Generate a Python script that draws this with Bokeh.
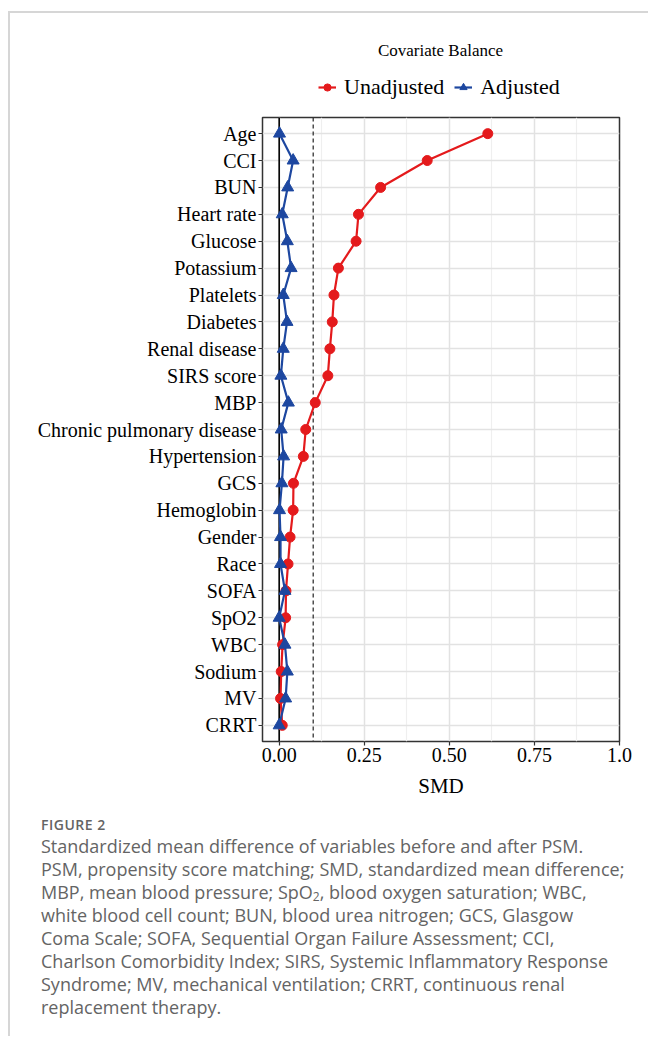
from bokeh.plotting import figure
from bokeh.models import (Range1d, FactorRange, FixedTicker, Span, Label, Legend,
                          LegendItem, Div)
from bokeh.layouts import column
from bokeh.embed import file_html
from bokeh.resources import INLINE

# ---------------- data ----------------
categories = ["Age", "CCI", "BUN", "Heart rate", "Glucose", "Potassium", "Platelets",
              "Diabetes", "Renal disease", "SIRS score", "MBP",
              "Chronic pulmonary disease", "Hypertension", "GCS", "Hemoglobin",
              "Gender", "Race", "SOFA", "SpO2", "WBC", "Sodium", "MV", "CRRT"]
unadjusted = [0.613, 0.435, 0.298, 0.233, 0.226, 0.174, 0.161, 0.156, 0.149, 0.143,
              0.106, 0.078, 0.071, 0.042, 0.041, 0.032, 0.026, 0.020, 0.019, 0.010,
              0.006, 0.004, 0.009]
adjusted = [0.001, 0.041, 0.025, 0.009, 0.024, 0.035, 0.012, 0.023, 0.012, 0.005,
            0.027, 0.006, 0.013, 0.008, 0.001, 0.004, 0.004, 0.017, 0.000, 0.017,
            0.024, 0.019, 0.000]
series_names = ["Unadjusted", "Adjusted"]
x_ticks = [0.0, 0.25, 0.5, 0.75, 1.0]
x_tick_labels = ["0.00", "0.25", "0.50", "0.75", "1.0"]
x_minor_ticks = [0.125, 0.375, 0.625, 0.875]
threshold = 0.1
legend_title = "Covariate Balance"
x_label = "SMD"
caption_head = "FIGURE 2"
caption_lines = [
    "Standardized mean difference of variables before and after PSM.",
    "PSM, propensity score matching; SMD, standardized mean difference;",
    "MBP, mean blood pressure; SpO<sub style='font-size:12px; line-height:0; "
    "vertical-align:-2px'>2</sub>, blood oxygen saturation; WBC,",
    "white blood cell count; BUN, blood urea nitrogen; GCS, Glasgow",
    "Coma Scale; SOFA, Sequential Organ Failure Assessment; CCI,",
    "Charlson Comorbidity Index; SIRS, Systemic Inflammatory Response",
    "Syndrome; MV, mechanical ventilation; CRRT, continuous renal",
    "replacement therapy.",
]

RED = "#E41A1C"
BLUE = "#1D47A0"
SERIF = "Liberation Serif"
W = 630
BL, BR = 252, 21
FRAME_W = W - BL - BR

# ---------------- header (title + legend) ----------------
HEAD_H = 100
h = figure(width=W, height=HEAD_H, x_range=Range1d(0, FRAME_W), y_range=Range1d(0, HEAD_H),
           output_backend="svg", toolbar_location=None,
           min_border_left=BL, min_border_right=BR,
           min_border_top=0, min_border_bottom=0)
h.axis.visible = False
h.grid.visible = False
h.outline_line_color = None
h.border_fill_color = None
h.background_fill_color = None

# legend key renderers (placeholders outside the visible range)
off = [-1000]
krl = h.line(x=off, y=off, line_color=RED, line_width=2.2)
krp = h.scatter(x=off, y=off, marker="circle", size=10, fill_color=RED, line_color=RED)
kbl = h.line(x=off, y=off, line_color=BLUE, line_width=2.2)
kbp = h.scatter(x=off, y=off, marker="triangle", size=12, fill_color=BLUE, line_color=BLUE)

legend = Legend(items=[LegendItem(label=series_names[0], renderers=[krl, krp]),
                       LegendItem(label=series_names[1], renderers=[kbl, kbp])],
                orientation="horizontal", location=(56, 13),
                border_line_color=None, background_fill_alpha=0,
                padding=0, margin=0, spacing=10, label_standoff=8,
                glyph_width=18, glyph_height=24,
                label_text_font=SERIF, label_text_font_size="22px",
                label_text_color="black")
h.add_layout(legend)
h.add_layout(Label(x=178, y=63, text=legend_title, text_align="center",
                   text_baseline="middle", text_font=SERIF,
                   text_font_size="17px", text_color="black"))

# ---------------- main plot ----------------
FRAME_H = 624
p = figure(width=W, height=4 + FRAME_H + 70,
           x_range=Range1d(-0.049, 1.0),
           y_range=FactorRange(factors=list(reversed(categories)),
                               range_padding=0.1, range_padding_units="absolute"),
           output_backend="svg", toolbar_location=None,
           min_border_left=BL, min_border_right=BR,
           min_border_top=4, min_border_bottom=70)

p.outline_line_color = "#333333"
p.outline_line_width = 1.5
p.background_fill_color = "white"
p.border_fill_color = None

p.xaxis.ticker = FixedTicker(ticks=x_ticks, minor_ticks=x_minor_ticks)
p.xaxis.major_label_overrides = {t: l for t, l in zip(x_ticks, x_tick_labels)}
p.xgrid.grid_line_color = "#e2e2e2"
p.xgrid.grid_line_width = 1.5
p.xgrid.minor_grid_line_color = "#efefef"
p.xgrid.minor_grid_line_width = 1.2
p.ygrid.grid_line_color = "#e2e2e2"
p.ygrid.grid_line_width = 1.5

for ax in (p.xaxis[0], p.yaxis[0]):
    ax.axis_line_color = None
    ax.major_tick_line_color = "#333333"
    ax.major_tick_line_width = 1.2
    ax.major_tick_out = 4
    ax.major_tick_in = 0
    ax.minor_tick_line_color = None
    ax.major_label_text_font = SERIF
    ax.major_label_text_font_size = "20px"
    ax.major_label_text_color = "black"
    ax.major_label_standoff = 2
p.xaxis.axis_label = x_label
p.xaxis.axis_label_text_font = SERIF
p.xaxis.axis_label_text_font_size = "21px"
p.xaxis.axis_label_text_font_style = "normal"
p.xaxis.axis_label_text_color = "black"
p.xaxis.axis_label_standoff = 9

p.add_layout(Span(location=0, dimension="height", line_color="black",
                  line_width=1.6, level="underlay"))
p.add_layout(Span(location=threshold, dimension="height", line_color="#333333",
                  line_width=1.3, line_dash="4 3", level="underlay"))

p.line(unadjusted, categories, line_color=RED, line_width=2.2)
p.scatter(unadjusted, categories, marker="circle", size=10,
          fill_color=RED, line_color=RED)
p.line(adjusted, categories, line_color=BLUE, line_width=2.2)
p.scatter(adjusted, categories, marker="triangle", size=12,
          fill_color=BLUE, line_color=BLUE)

# ---------------- caption ----------------
cap_html = (
    "<div style=\"font-family:'Open Sans'; color:#646464; padding-left:26px; "
    "padding-top:2px; white-space:nowrap;\">"
    f"<div style='font-size:14px; font-weight:600; line-height:14px; "
    f"letter-spacing:0.5px;'>{caption_head}</div>"
    "<div style='font-size:18px; line-height:23px; margin-top:3px;'>"
    + "<br>".join(caption_lines) + "</div></div>"
)
cap = Div(text=cap_html, width=W, height=215)

lay = column(h, p, cap, styles={"border-top": "2px solid #d6d6d6",
                                "border-left": "2px solid #d6d6d6",
                                "margin-top": "11px", "margin-left": "8px"})

open("out.html", "w").write(file_html(lay, INLINE))
